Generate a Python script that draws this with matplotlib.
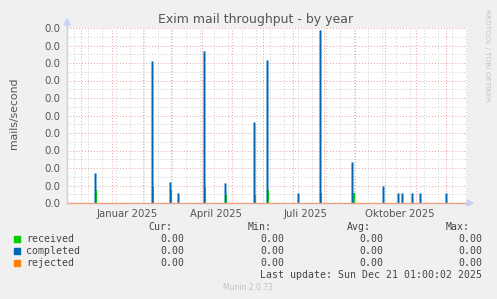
import matplotlib
matplotlib.use("Agg")
import matplotlib.pyplot as plt
from matplotlib.patches import Rectangle
from datetime import datetime, timedelta
import numpy as np

# ---------------- data ----------------
title = "Exim mail throughput - by year"
ylabel = "mails/second"
ytick_labels = ["0.0"] * 11            # munin prints every tick as 0.0
ytick_values = list(range(11))          # in units of 1e-4 mails/second (scaled)

completed_dates = ["2024-12-15", "2025-02-10", "2025-02-28", "2025-03-08", "2025-04-03",
                   "2025-04-24", "2025-05-23", "2025-06-05", "2025-07-06", "2025-07-28",
                   "2025-08-29", "2025-09-29", "2025-10-14", "2025-10-18", "2025-10-28",
                   "2025-11-05", "2025-12-01"]
completed_vals = [1.71, 8.11, 1.20, 0.57, 8.69, 1.14, 4.61, 8.15, 0.57, 9.87,
                  2.34, 0.97, 0.57, 0.57, 0.57, 0.57, 0.57]

received_dates = ["2024-12-16", "2025-02-11", "2025-03-01", "2025-04-04", "2025-04-25",
                  "2025-05-24", "2025-06-06", "2025-07-29", "2025-08-30", "2025-08-31"]
received_vals = [0.74, 0.93, 0.74, 0.93, 0.46, 0.46, 0.74, 0.57, 0.55, 0.55]

rejected_dates = ["2024-11-17", "2025-12-22"]
rejected_vals = [0.0, 0.0]

xlabel_dates = ["2025-01-16", "2025-04-15", "2025-07-14", "2025-10-16"]
xlabel_texts = ["Januar 2025", "April 2025", "Juli 2025", "Oktober 2025"]

legend_names = ["received", "completed", "rejected"]
legend_colors = ["#00cc00", "#0066b3", "#ff8000"]
legend_cur = ["0.00", "0.00", "0.00"]
legend_min = ["0.00", "0.00", "0.00"]
legend_avg = ["0.00", "0.00", "0.00"]
legend_max = ["0.00", "0.00", "0.00"]
last_update = "Last update: Sun Dec 21 01:00:02 2025"
version = "Munin 2.0.73"

# ---------------- figure ----------------
W, H = 497, 299
fig = plt.figure(figsize=(W / 100, H / 100), dpi=100, facecolor="#f0f0f0")

def fx(px):
    return px / W

def fy(py):
    return 1 - py / H

L, R, T, B = 67, 467, 28, 203
ax = fig.add_axes([fx(L), fy(B), fx(R) - fx(L), fy(T) - fy(B)])
ax.set_facecolor("#ffffff")

start = datetime(2024, 11, 17, 6)
end = start + timedelta(days=400)
ax.set_xlim(start, end)
ax.set_ylim(0, 10)

# grid
dot = (0, (1, 2))
minor_x = [start + timedelta(days=7 + 14 * k) for k in range(29)]
for d in minor_x:
    ax.axvline(d, color="#d0d0d0", lw=0.7, ls=dot, zorder=1)
for v in np.arange(0.5, 10, 1.0):
    ax.axhline(v, color="#d0d0d0", lw=0.7, ls=dot, zorder=1)
month_starts = [datetime(2024, 12, 1)] + [datetime(2025, m, 1) for m in range(1, 13)]
for d in month_starts:
    ax.axvline(d, color="#e8a0a0", lw=0.7, ls=dot, zorder=1)
for v in ytick_values:
    ax.axhline(v, color="#e8a0a0", lw=0.7, ls=dot, zorder=1)

# series
rd = [datetime.fromisoformat(s) for s in received_dates]
cd = [datetime.fromisoformat(s) for s in completed_dates]
jd = [datetime.fromisoformat(s) for s in rejected_dates]
ax.vlines(cd, 0, completed_vals, color="#8cbde3", lw=2.1, zorder=2)
ax.vlines(rd, 0, received_vals, color="#00cc00", lw=1.5, zorder=3)
ax.vlines(cd, 0, completed_vals, color="#0066b3", lw=0.9, zorder=4)
ax.plot(jd, rejected_vals, color="#f0a080", lw=1.0, zorder=5, clip_on=False)

# ticks
ax.set_yticks(ytick_values)
ax.set_yticklabels(ytick_labels)
ax.set_xticks([datetime.fromisoformat(s) for s in xlabel_dates])
ax.set_xticklabels(xlabel_texts)
ax.tick_params(axis="both", length=0, labelsize=7.3, colors="#555555")
ax.tick_params(axis="y", pad=5)
ax.tick_params(axis="x", pad=4)
for s in ax.spines.values():
    s.set_visible(False)

# axes lines/arrows
ax.plot([0, 0], [0, 1.03], transform=ax.transAxes, color="#c8d0f0", lw=1.0, clip_on=False, zorder=6)
fig.patches.append(plt.Polygon([[fx(64), fy(25)], [fx(70), fy(25)], [fx(67), fy(19)]],
                               closed=True, transform=fig.transFigure, color="#c8d0f8"))
fig.patches.append(plt.Polygon([[fx(467), fy(200)], [fx(467), fy(206)], [fx(473), fy(203)]],
                               closed=True, transform=fig.transFigure, color="#c8d0f8"))

# title / labels
fig.text(fx(256), fy(19), title, ha="center", va="center", fontsize=9, color="#555555")
fig.text(fx(14), fy(113), ylabel, ha="center", va="center", rotation=90, fontsize=7.8, color="#555555")
fig.text(fx(487), fy(55), "RRDTOOL / TOBI OETIKER", ha="center", va="center", rotation=270,
         fontsize=5.2, color="#c4c4c4")

# legend
mono = "DejaVu Sans Mono"
fs = 7.1
lc = "#444444"
for txt, xr in zip(["Cur:", "Min:", "Avg:", "Max:"], [172, 272, 371, 470]):
    fig.text(fx(xr), fy(227), txt, ha="right", va="center", family=mono, fontsize=fs, color=lc)
rows_y = [239, 251, 263]
for i, (name, col) in enumerate(zip(legend_names, legend_colors)):
    y = rows_y[i]
    fig.patches.append(Rectangle((fx(14), fy(y + 3)), fx(6), 6 / H, transform=fig.transFigure,
                                 color=col))
    fig.text(fx(26), fy(y), name, ha="left", va="center", family=mono, fontsize=fs, color=lc)
    for val, xr in zip([legend_cur[i], legend_min[i], legend_avg[i], legend_max[i]],
                       [184, 284, 383, 482]):
        fig.text(fx(xr), fy(y), val, ha="right", va="center", family=mono, fontsize=fs, color=lc)
fig.text(fx(482), fy(275), last_update, ha="right", va="center", family=mono, fontsize=fs, color=lc)
fig.text(fx(248), fy(288), version, ha="center", va="center", fontsize=5.5, color="#c0c0c0")

fig.savefig("out.png", dpi=100, facecolor=fig.get_facecolor())
